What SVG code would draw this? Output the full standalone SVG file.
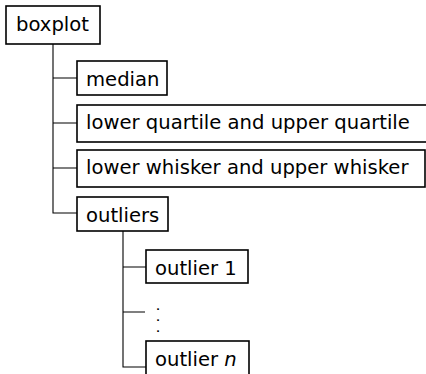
<svg xmlns="http://www.w3.org/2000/svg" width="426" height="374" viewBox="0 0 426 374">
  <style>
    .box { fill: #ffffff; stroke: #000000; stroke-width: 1.6; }
    .lbl { font-family: "DejaVu Sans", "Liberation Sans", sans-serif; font-size: 19.6px; fill: #000000; }
    .dot { font-family: "DejaVu Sans", "Liberation Sans", sans-serif; font-size: 9.4px; font-weight: bold; fill: #000000; }
    .edge { fill: none; stroke: #000000; stroke-width: 1.1; }
  </style>
  <rect width="426" height="374" fill="#ffffff"/>

  <!-- tree connectors -->
  <g id="connectors">
    <path class="edge" d="M53,44 V213 H77 M53,78 H77 M53,123 H77 M53,168 H77"/>
    <path class="edge" d="M123,231 V367 H146 M123,267 H146 M123,312 H145"/>
  </g>

  <g id="boxplot">
    <rect class="box" x="6" y="6" width="94" height="38"/>
    <text class="lbl" x="16" y="31">boxplot</text>
  </g>

  <g id="median">
    <rect class="box" x="77" y="61" width="90" height="34"/>
    <text class="lbl" x="86" y="86">median</text>
  </g>

  <g id="quartiles">
    <rect class="box" x="77" y="105" width="352" height="37"/>
    <text class="lbl" x="86" y="129">lower quartile and upper quartile</text>
  </g>

  <g id="whiskers">
    <rect class="box" x="77" y="150" width="348" height="37"/>
    <text class="lbl" x="86" y="174">lower whisker and upper whisker</text>
  </g>

  <g id="outliers">
    <rect class="box" x="77" y="197" width="91" height="34"/>
    <text class="lbl" x="86" y="222">outliers</text>
  </g>

  <g id="outlier-1">
    <rect class="box" x="146" y="250" width="102" height="33"/>
    <text class="lbl" x="155" y="275">outlier 1</text>
  </g>

  <!-- vertical ellipsis, one dot per line -->
  <g id="outlier-dots">
    <text class="dot" text-anchor="middle"><tspan x="158" y="310">.</tspan><tspan x="158" y="321">.</tspan><tspan x="158" y="332">.</tspan></text>
  </g>

  <g id="outlier-n">
    <rect class="box" x="146" y="341" width="103" height="34"/>
    <text class="lbl" x="155" y="366">outlier <tspan font-style="italic">n</tspan></text>
  </g>
</svg>
